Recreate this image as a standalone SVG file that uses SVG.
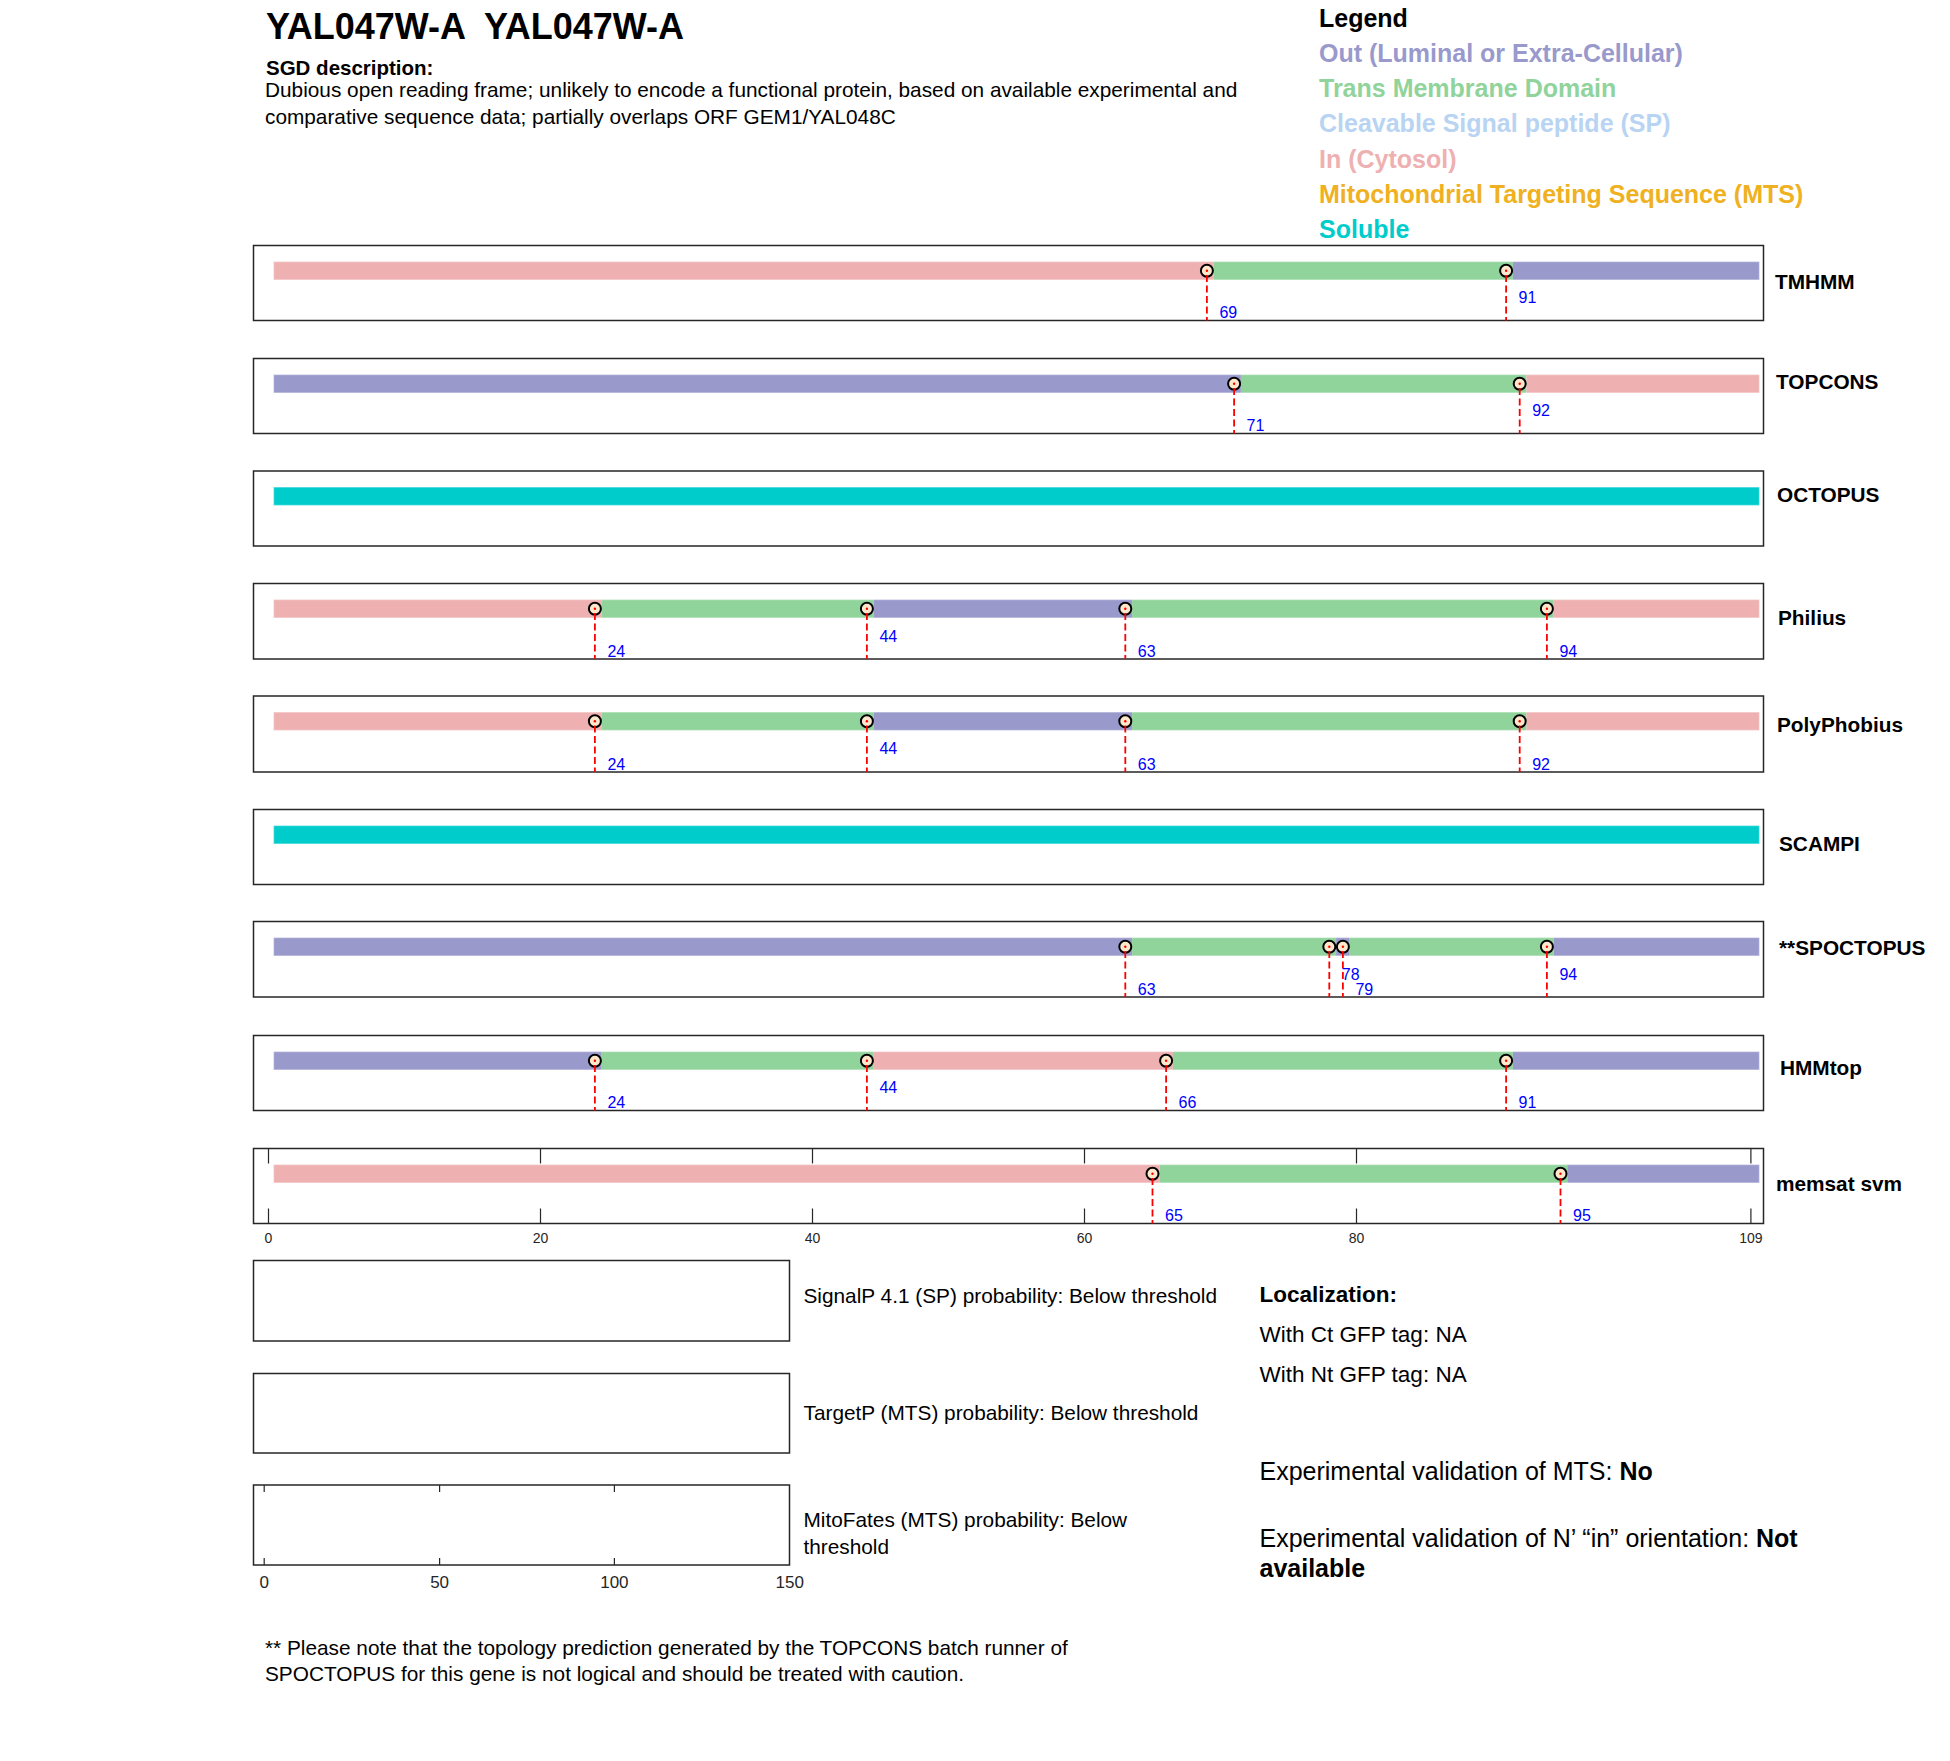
<svg xmlns="http://www.w3.org/2000/svg" width="1950" height="1761" viewBox="0 0 1950 1761">
<style>
text{font-family:"Liberation Sans",Arial,Helvetica,sans-serif;fill:#000}
.title{font-size:36px;font-weight:bold}
.sgd{font-size:20.5px;font-weight:bold}
.desc{font-size:20.8px}
.leg{font-size:25px;font-weight:bold}
.tool{font-size:20.8px;font-weight:bold}
.num{font-size:16px;fill:#0000FF}
.tk{font-size:14px;fill:#262626;text-anchor:middle}
.tk2{font-size:17px;fill:#262626;text-anchor:middle}
.side{font-size:20.8px}
.loc{font-size:22.5px}
.exp{font-size:25px}
.foot{font-size:20.8px}
.box{fill:#fff;stroke:#262626;stroke-width:1.5}
.out{fill:#9999CC}
.tm{fill:#90D39B}
.in{fill:#EEB0B0}
.sol{fill:#00CCCC}
.edge{fill:none;stroke:#fff;stroke-opacity:0.45;stroke-width:1.4}
.dash{stroke:#FF0000;stroke-width:1.8;stroke-dasharray:7 3.5;fill:none}
.mk{fill:#FDE8CC;stroke:#000;stroke-width:2}
.dot{fill:#FF0000}
.tick{stroke:#262626;stroke-width:1.2}
</style>

<g id="header">
<text class="title" x="266" y="39" xml:space="preserve">YAL047W-A  YAL047W-A</text>
<text class="sgd" x="266" y="75">SGD description:</text>
<text class="desc" x="265" y="96.5">Dubious open reading frame; unlikely to encode a functional protein, based on available experimental and</text>
<text class="desc" x="265" y="124">comparative sequence data; partially overlaps ORF GEM1/YAL048C</text>
</g>

<g id="legend">
<text class="leg" x="1319" y="27">Legend</text>
<text class="leg" x="1319" y="62" style="fill:#9999CC">Out (Luminal or Extra-Cellular)</text>
<text class="leg" x="1319" y="97" style="fill:#90D39B">Trans Membrane Domain</text>
<text class="leg" x="1319" y="132" style="fill:#B8D4F2">Cleavable Signal peptide (SP)</text>
<text class="leg" x="1319" y="167.5" style="fill:#EEB0B0">In (Cytosol)</text>
<text class="leg" x="1319" y="202.5" style="fill:#EFB121">Mitochondrial Targeting Sequence (MTS)</text>
<text class="leg" x="1319" y="237.5" style="fill:#00CCCC">Soluble</text>
</g>

<!-- TMHMM -->
<g id="tmhmm">
<rect class="box" x="253.5" y="245.5" width="1510" height="75"/>
<rect class="in" x="273.5" y="261.5" width="940.2" height="18.5"/>
<rect class="tm" x="1213.7" y="261.5" width="299.2" height="18.5"/>
<rect class="out" x="1512.9" y="261.5" width="246.6" height="18.5"/>
<rect class="edge" x="273.5" y="261.5" width="1486" height="18.5"/>
<circle class="mk" cx="1206.9" cy="270.75" r="6"/><circle class="dot" cx="1206.9" cy="270.75" r="1.2"/>
<circle class="mk" cx="1506.1" cy="270.75" r="6"/><circle class="dot" cx="1506.1" cy="270.75" r="1.2"/>
<line class="dash" x1="1206.9" y1="275" x2="1206.9" y2="320.5"/>
<line class="dash" x1="1506.1" y1="275" x2="1506.1" y2="320.5"/>
<text class="num" x="1219.4" y="318">69</text>
<text class="num" x="1518.6" y="303">91</text>
<text class="tool" x="1775" y="289">TMHMM</text>
</g>

<!-- TOPCONS -->
<g id="topcons">
<rect class="box" x="253.5" y="358.5" width="1510" height="75"/>
<rect class="out" x="273.5" y="374.5" width="967.4" height="18.5"/>
<rect class="tm" x="1240.9" y="374.5" width="285.6" height="18.5"/>
<rect class="in" x="1526.5" y="374.5" width="233" height="18.5"/>
<rect class="edge" x="273.5" y="374.5" width="1486" height="18.5"/>
<circle class="mk" cx="1234.1" cy="383.75" r="6"/><circle class="dot" cx="1234.1" cy="383.75" r="1.2"/>
<circle class="mk" cx="1519.7" cy="383.75" r="6"/><circle class="dot" cx="1519.7" cy="383.75" r="1.2"/>
<line class="dash" x1="1234.1" y1="388" x2="1234.1" y2="433.5"/>
<line class="dash" x1="1519.7" y1="388" x2="1519.7" y2="433.5"/>
<text class="num" x="1246.6" y="431">71</text>
<text class="num" x="1532.2" y="416">92</text>
<text class="tool" x="1776" y="388.5">TOPCONS</text>
</g>

<!-- OCTOPUS -->
<g id="octopus">
<rect class="box" x="253.5" y="471" width="1510" height="75"/>
<rect class="sol" x="273.5" y="487" width="1486" height="18.5"/>
<rect class="edge" x="273.5" y="487" width="1486" height="18.5"/>
<text class="tool" x="1777" y="502">OCTOPUS</text>
</g>

<!-- Philius -->
<g id="philius">
<rect class="box" x="253.5" y="583.5" width="1510" height="75.5"/>
<rect class="in" x="273.5" y="599.5" width="328.2" height="18.5"/>
<rect class="tm" x="601.7" y="599.5" width="272" height="18.5"/>
<rect class="out" x="873.7" y="599.5" width="258.4" height="18.5"/>
<rect class="tm" x="1132.1" y="599.5" width="421.6" height="18.5"/>
<rect class="in" x="1553.7" y="599.5" width="205.8" height="18.5"/>
<rect class="edge" x="273.5" y="599.5" width="1486" height="18.5"/>
<circle class="mk" cx="594.9" cy="608.75" r="6"/><circle class="dot" cx="594.9" cy="608.75" r="1.2"/>
<circle class="mk" cx="866.9" cy="608.75" r="6"/><circle class="dot" cx="866.9" cy="608.75" r="1.2"/>
<circle class="mk" cx="1125.3" cy="608.75" r="6"/><circle class="dot" cx="1125.3" cy="608.75" r="1.2"/>
<circle class="mk" cx="1546.9" cy="608.75" r="6"/><circle class="dot" cx="1546.9" cy="608.75" r="1.2"/>
<line class="dash" x1="594.9" y1="613" x2="594.9" y2="659"/>
<line class="dash" x1="866.9" y1="613" x2="866.9" y2="659"/>
<line class="dash" x1="1125.3" y1="613" x2="1125.3" y2="659"/>
<line class="dash" x1="1546.9" y1="613" x2="1546.9" y2="659"/>
<text class="num" x="607.4" y="656.5">24</text>
<text class="num" x="879.4" y="641.5">44</text>
<text class="num" x="1137.8" y="656.5">63</text>
<text class="num" x="1559.4" y="656.5">94</text>
<text class="tool" x="1778" y="625">Philius</text>
</g>

<!-- PolyPhobius -->
<g id="polyphobius">
<rect class="box" x="253.5" y="696" width="1510" height="76"/>
<rect class="in" x="273.5" y="712" width="328.2" height="18.5"/>
<rect class="tm" x="601.7" y="712" width="272" height="18.5"/>
<rect class="out" x="873.7" y="712" width="258.4" height="18.5"/>
<rect class="tm" x="1132.1" y="712" width="394.4" height="18.5"/>
<rect class="in" x="1526.5" y="712" width="233" height="18.5"/>
<rect class="edge" x="273.5" y="712" width="1486" height="18.5"/>
<circle class="mk" cx="594.9" cy="721.25" r="6"/><circle class="dot" cx="594.9" cy="721.25" r="1.2"/>
<circle class="mk" cx="866.9" cy="721.25" r="6"/><circle class="dot" cx="866.9" cy="721.25" r="1.2"/>
<circle class="mk" cx="1125.3" cy="721.25" r="6"/><circle class="dot" cx="1125.3" cy="721.25" r="1.2"/>
<circle class="mk" cx="1519.7" cy="721.25" r="6"/><circle class="dot" cx="1519.7" cy="721.25" r="1.2"/>
<line class="dash" x1="594.9" y1="725.5" x2="594.9" y2="772"/>
<line class="dash" x1="866.9" y1="725.5" x2="866.9" y2="772"/>
<line class="dash" x1="1125.3" y1="725.5" x2="1125.3" y2="772"/>
<line class="dash" x1="1519.7" y1="725.5" x2="1519.7" y2="772"/>
<text class="num" x="607.4" y="769.5">24</text>
<text class="num" x="879.4" y="754">44</text>
<text class="num" x="1137.8" y="769.5">63</text>
<text class="num" x="1532.2" y="769.5">92</text>
<text class="tool" x="1777" y="731.5">PolyPhobius</text>
</g>

<!-- SCAMPI -->
<g id="scampi">
<rect class="box" x="253.5" y="809.5" width="1510" height="75"/>
<rect class="sol" x="273.5" y="825.5" width="1486" height="18.5"/>
<rect class="edge" x="273.5" y="825.5" width="1486" height="18.5"/>
<text class="tool" x="1779" y="851">SCAMPI</text>
</g>

<!-- SPOCTOPUS -->
<g id="spoctopus">
<rect class="box" x="253.5" y="921.5" width="1510" height="75.5"/>
<rect class="out" x="273.5" y="937.5" width="858.6" height="18.5"/>
<rect class="tm" x="1132.1" y="937.5" width="204" height="18.5"/>
<rect class="out" x="1336.1" y="937.5" width="13.6" height="18.5"/>
<rect class="tm" x="1349.7" y="937.5" width="204" height="18.5"/>
<rect class="out" x="1553.7" y="937.5" width="205.8" height="18.5"/>
<rect class="edge" x="273.5" y="937.5" width="1486" height="18.5"/>
<circle class="mk" cx="1125.3" cy="946.75" r="6"/><circle class="dot" cx="1125.3" cy="946.75" r="1.2"/>
<circle class="mk" cx="1329.3" cy="946.75" r="6"/><circle class="dot" cx="1329.3" cy="946.75" r="1.2"/>
<circle class="mk" cx="1342.9" cy="946.75" r="6"/><circle class="dot" cx="1342.9" cy="946.75" r="1.2"/>
<circle class="mk" cx="1546.9" cy="946.75" r="6"/><circle class="dot" cx="1546.9" cy="946.75" r="1.2"/>
<line class="dash" x1="1125.3" y1="951" x2="1125.3" y2="997"/>
<line class="dash" x1="1329.3" y1="951" x2="1329.3" y2="997"/>
<line class="dash" x1="1342.9" y1="951" x2="1342.9" y2="997"/>
<line class="dash" x1="1546.9" y1="951" x2="1546.9" y2="997"/>
<text class="num" x="1137.8" y="994.5">63</text>
<text class="num" x="1341.8" y="979.5">78</text>
<text class="num" x="1355.4" y="994.5">79</text>
<text class="num" x="1559.4" y="979.5">94</text>
<text class="tool" x="1779" y="955">**SPOCTOPUS</text>
</g>

<!-- HMMtop -->
<g id="hmmtop">
<rect class="box" x="253.5" y="1035.5" width="1510" height="75"/>
<rect class="out" x="273.5" y="1051.5" width="328.2" height="18.5"/>
<rect class="tm" x="601.7" y="1051.5" width="272" height="18.5"/>
<rect class="in" x="873.7" y="1051.5" width="299.2" height="18.5"/>
<rect class="tm" x="1172.9" y="1051.5" width="340" height="18.5"/>
<rect class="out" x="1512.9" y="1051.5" width="246.6" height="18.5"/>
<rect class="edge" x="273.5" y="1051.5" width="1486" height="18.5"/>
<circle class="mk" cx="594.9" cy="1060.75" r="6"/><circle class="dot" cx="594.9" cy="1060.75" r="1.2"/>
<circle class="mk" cx="866.9" cy="1060.75" r="6"/><circle class="dot" cx="866.9" cy="1060.75" r="1.2"/>
<circle class="mk" cx="1166.1" cy="1060.75" r="6"/><circle class="dot" cx="1166.1" cy="1060.75" r="1.2"/>
<circle class="mk" cx="1506.1" cy="1060.75" r="6"/><circle class="dot" cx="1506.1" cy="1060.75" r="1.2"/>
<line class="dash" x1="594.9" y1="1065" x2="594.9" y2="1110.5"/>
<line class="dash" x1="866.9" y1="1065" x2="866.9" y2="1110.5"/>
<line class="dash" x1="1166.1" y1="1065" x2="1166.1" y2="1110.5"/>
<line class="dash" x1="1506.1" y1="1065" x2="1506.1" y2="1110.5"/>
<text class="num" x="607.4" y="1108">24</text>
<text class="num" x="879.4" y="1093">44</text>
<text class="num" x="1178.6" y="1108">66</text>
<text class="num" x="1518.6" y="1108">91</text>
<text class="tool" x="1780" y="1075">HMMtop</text>
</g>

<!-- memsat svm -->
<g id="memsat">
<rect class="box" x="253.5" y="1148.5" width="1510" height="75"/>
<g class="tick">
<line x1="268.5" y1="1148.5" x2="268.5" y2="1163.5"/><line x1="540.5" y1="1148.5" x2="540.5" y2="1163.5"/>
<line x1="812.5" y1="1148.5" x2="812.5" y2="1163.5"/><line x1="1084.5" y1="1148.5" x2="1084.5" y2="1163.5"/>
<line x1="1356.5" y1="1148.5" x2="1356.5" y2="1163.5"/><line x1="1750.9" y1="1148.5" x2="1750.9" y2="1163.5"/>
<line x1="268.5" y1="1208.5" x2="268.5" y2="1223.5"/><line x1="540.5" y1="1208.5" x2="540.5" y2="1223.5"/>
<line x1="812.5" y1="1208.5" x2="812.5" y2="1223.5"/><line x1="1084.5" y1="1208.5" x2="1084.5" y2="1223.5"/>
<line x1="1356.5" y1="1208.5" x2="1356.5" y2="1223.5"/><line x1="1750.9" y1="1208.5" x2="1750.9" y2="1223.5"/>
</g>
<rect class="in" x="273.5" y="1164.5" width="885.8" height="18.5"/>
<rect class="tm" x="1159.3" y="1164.5" width="408" height="18.5"/>
<rect class="out" x="1567.3" y="1164.5" width="192.2" height="18.5"/>
<rect class="edge" x="273.5" y="1164.5" width="1486" height="18.5"/>
<circle class="mk" cx="1152.5" cy="1173.75" r="6"/><circle class="dot" cx="1152.5" cy="1173.75" r="1.2"/>
<circle class="mk" cx="1560.5" cy="1173.75" r="6"/><circle class="dot" cx="1560.5" cy="1173.75" r="1.2"/>
<line class="dash" x1="1152.5" y1="1178" x2="1152.5" y2="1223.5"/>
<line class="dash" x1="1560.5" y1="1178" x2="1560.5" y2="1223.5"/>
<text class="num" x="1165" y="1221">65</text>
<text class="num" x="1573" y="1221">95</text>
<text class="tool" x="1776" y="1191">memsat svm</text>
<text class="tk" x="268.5" y="1243">0</text>
<text class="tk" x="540.5" y="1243">20</text>
<text class="tk" x="812.5" y="1243">40</text>
<text class="tk" x="1084.5" y="1243">60</text>
<text class="tk" x="1356.5" y="1243">80</text>
<text class="tk" x="1750.9" y="1243">109</text>
</g>

<!-- SignalP / TargetP / MitoFates -->
<g id="signalp">
<rect class="box" x="253.5" y="1260.5" width="536" height="80.5"/>
<text class="side" x="803.5" y="1303">SignalP 4.1 (SP) probability: Below threshold</text>
</g>
<g id="targetp">
<rect class="box" x="253.5" y="1373.5" width="536" height="79.5"/>
<text class="side" x="803.5" y="1420">TargetP (MTS) probability: Below threshold</text>
</g>
<g id="mitofates">
<rect class="box" x="253.5" y="1485" width="536" height="80"/>
<g class="tick">
<line x1="264.2" y1="1485" x2="264.2" y2="1492"/><line x1="439.6" y1="1485" x2="439.6" y2="1492"/><line x1="614.4" y1="1485" x2="614.4" y2="1492"/>
<line x1="264.2" y1="1558" x2="264.2" y2="1565"/><line x1="439.6" y1="1558" x2="439.6" y2="1565"/><line x1="614.4" y1="1558" x2="614.4" y2="1565"/>
</g>
<text class="tk2" x="264.2" y="1588">0</text>
<text class="tk2" x="439.6" y="1588">50</text>
<text class="tk2" x="614.4" y="1588">100</text>
<text class="tk2" x="789.7" y="1588">150</text>
<text class="side" x="803.5" y="1527">MitoFates (MTS) probability: Below</text>
<text class="side" x="803.5" y="1553.5">threshold</text>
</g>

<g id="localization">
<text class="loc" x="1259.5" y="1302" font-weight="bold">Localization:</text>
<text class="loc" x="1259.5" y="1342">With Ct GFP tag: NA</text>
<text class="loc" x="1259.5" y="1382">With Nt GFP tag: NA</text>
<text class="exp" x="1259.5" y="1480">Experimental validation of MTS: <tspan font-weight="bold">No</tspan></text>
<text class="exp" x="1259.5" y="1546.5">Experimental validation of N’ “in” orientation: <tspan font-weight="bold">Not</tspan></text>
<text class="exp" x="1259.5" y="1577" font-weight="bold">available</text>
</g>

<g id="footnote">
<text class="foot" x="265" y="1655">** Please note that the topology prediction generated by the TOPCONS batch runner of</text>
<text class="foot" x="265" y="1681">SPOCTOPUS for this gene is not logical and should be treated with caution.</text>
</g>
</svg>
